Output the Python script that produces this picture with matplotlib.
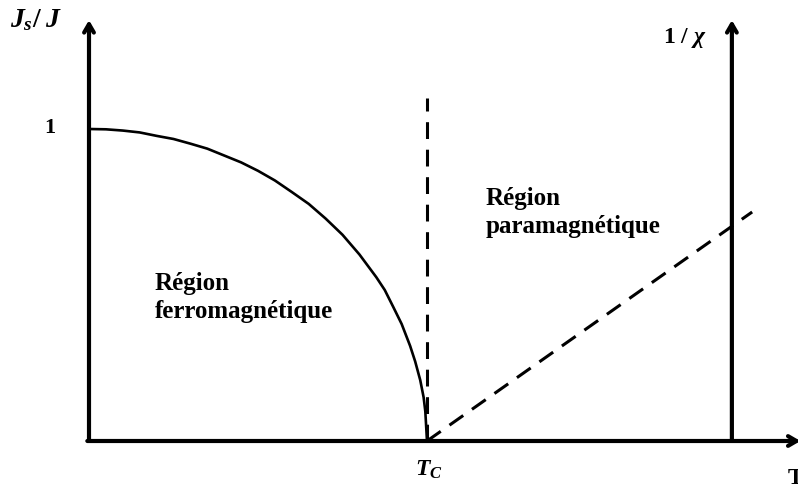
import matplotlib.pyplot as plt

plt.rcParams['font.family'] = ['Liberation Serif', 'DejaVu Serif']
plt.rcParams['mathtext.fontset'] = 'custom'
plt.rcParams['mathtext.it'] = 'Liberation Serif:italic:bold'
plt.rcParams['mathtext.rm'] = 'Liberation Serif:bold'
plt.rcParams['mathtext.bf'] = 'Liberation Serif:bold'

# --- data (T / Tc units) ---
T_ferro = [0.0, 0.05, 0.1, 0.15, 0.2, 0.25, 0.3, 0.35, 0.4, 0.45, 0.5, 0.55, 0.6,
           0.65, 0.7, 0.75, 0.8, 0.85, 0.875, 0.9, 0.925, 0.95, 0.965, 0.98,
           0.99, 0.995, 1.0]
Js_ferro = [1.0, 0.999, 0.995, 0.989, 0.978, 0.968, 0.953, 0.937, 0.915, 0.893,
            0.866, 0.835, 0.798, 0.760, 0.713, 0.661, 0.598, 0.525, 0.484, 0.43,
            0.375, 0.305, 0.255, 0.195, 0.14, 0.095, 0.0]
T_para = [1.0, 1.962]
inv_chi = [0.0, 0.734]
Tc = 1.0
Tc_line_top = 1.099
chi_axis_x = 1.902

fig = plt.figure(figsize=(7.98, 4.91), dpi=100)
ax = fig.add_axes([0, 0, 1, 1])
ax.set_xlim(-89 / 338, (798 - 89) / 338)
ax.set_ylim((441 - 491) / 312, 441 / 312)
ax.axis('off')

arrow = dict(arrowstyle='->,head_length=0.6,head_width=0.35', lw=3, color='black',
             shrinkA=0, shrinkB=0)
# axes
ax.annotate('', xy=(0, 1.349), xytext=(0, 0), arrowprops=arrow)
ax.annotate('', xy=(chi_axis_x, 1.349), xytext=(chi_axis_x, 0), arrowprops=arrow)
ax.annotate('', xy=(2.105, 0), xytext=(-0.005, 0), arrowprops=arrow,
            annotation_clip=False)

# curves
ax.plot(T_ferro, Js_ferro, color='black', lw=1.9, solid_joinstyle='round')
ax.plot([Tc, Tc], [0, Tc_line_top], color='black', lw=2.2, ls=(0, (5.5, 3.5)))
ax.plot(T_para, inv_chi, color='black', lw=2.2, ls=(0, (5.5, 3.5)))

# labels
ax.text(-0.234, 1.349, r'$J_s/\;J$', fontsize=20, ha='left', va='center')
ax.text(-0.10, 1.003, '1', fontsize=16, fontweight='bold', ha='right', va='center')
ax.text(1.698, 1.292, r'$\mathrm{1}$ / $\chi$', fontsize=17, ha='left', va='center',
        fontweight='bold')
ax.text(0.964, -0.093, r'$T_C$', fontsize=17, ha='left', va='center')
ax.text(2.068, -0.119, 'T', fontsize=17, fontweight='bold', ha='left', va='center')

ax.text(0.195, 0.484, 'Région', fontsize=18, fontweight='bold', va='baseline')
ax.text(0.195, 0.394, 'ferromagnétique', fontsize=18, fontweight='bold', va='baseline')
ax.text(1.172, 0.756, 'Région', fontsize=18, fontweight='bold', va='baseline')
ax.text(1.172, 0.667, 'paramagnétique', fontsize=18, fontweight='bold', va='baseline')

fig.savefig('out.png', dpi=100)
